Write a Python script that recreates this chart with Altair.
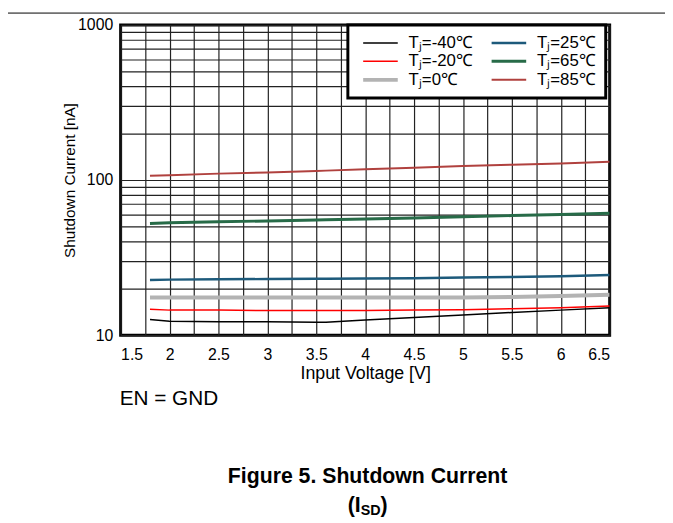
import altair as alt
import pandas as pd

# ---- data ----
volts = [1.8, 2.0, 2.5, 3.0, 3.5, 3.6, 4.0, 4.5, 5.0, 5.5, 6.0, 6.5]
tj_m40 = [12.6, 12.3, 12.2, 12.2, 12.1, 12.1, 12.5, 13.0, 13.5, 14.0, 14.5, 15.0]
tj_m20 = [14.7, 14.5, 14.5, 14.4, 14.4, 14.4, 14.4, 14.5, 14.6, 14.8, 15.0, 15.4]
tj_0 = [17.5, 17.5, 17.5, 17.5, 17.5, 17.5, 17.5, 17.5, 17.5, 17.6, 17.9, 18.2]
tj_25 = [22.7, 22.8, 22.9, 23.0, 23.1, 23.1, 23.2, 23.3, 23.5, 23.7, 24.0, 24.4]
tj_65 = [52.5, 53.0, 53.8, 54.5, 55.3, 55.4, 56.1, 57.0, 58.0, 59.0, 60.0, 61.0]
tj_85 = [106.7, 107.5, 110.0, 112.0, 114.5, 115.0, 117.5, 120.0, 123.0, 125.5, 128.0, 131.0]

series_names = ["Tⱼ=-40℃", "Tⱼ=-20℃", "Tⱼ=0℃", "Tⱼ=25℃", "Tⱼ=65℃", "Tⱼ=85℃"]
series_values = [tj_m40, tj_m20, tj_0, tj_25, tj_65, tj_85]
series_colors = ["#000000", "#ff0000", "#b3b3b3", "#1d5a7b", "#276b48", "#b0413e"]
series_widths = [1.5, 1.5, 4, 2.5, 3, 2]
draw_order = [0, 2, 1, 3, 4, 5]

x_grid = [1.5 + 0.25 * i for i in range(21)]
y_grid = [10, 20, 30, 40, 50, 60, 70, 80, 90, 100, 200, 300, 400, 500, 600, 700, 800, 900, 1000]

rows = []
for name, vals, o in zip(series_names, series_values, draw_order):
    for v, c in zip(volts, vals):
        rows.append({"v": v, "i": c, "series": name, "o": o})
df = pd.DataFrame(rows)

legend = alt.Legend(
    title=None, orient="none", legendX=230, legendY=0, columns=2,
    symbolType="M-3.5,0L3.5,0", symbolSize=100, labelFontSize=17, labelFont="Liberation Sans",
    fillColor="white", strokeColor="black", padding=9.5, rowPadding=0.8,
    columnPadding=13, labelOffset=20, symbolOffset=15,
)

lines = alt.Chart(df).mark_line(clip=True).encode(
    x=alt.X("v:Q", scale=alt.Scale(domain=[1.5, 6.5], nice=False, zero=False),
            axis=alt.Axis(values=x_grid, format="~g",
                          labelExpr="(datum.value * 2) % 1 == 0 ? datum.label : ''",
                          title="Input Voltage [V]", ticks=False, domain=False,
                          labelPadding=12, titlePadding=2, titleFontSize=18)),
    y=alt.Y("i:Q", scale=alt.Scale(type="log", domain=[10, 1000], nice=False),
            axis=alt.Axis(values=y_grid, format="d",
                          labelExpr="datum.value == 10 || datum.value == 100 || datum.value == 1000 ? datum.label : ''",
                          title="Shutdown Current [nA]", ticks=False, domain=False,
                          labelPadding=8, titleX=-52, titleY=157, titleAngle=-90,
                          titleAlign="center", titleBaseline="middle", titleFontSize=15.5)),
    color=alt.Color("series:N", scale=alt.Scale(domain=series_names, range=series_colors), legend=legend),
    strokeWidth=alt.StrokeWidth("series:N", scale=alt.Scale(type="ordinal", domain=series_names, range=series_widths), legend=legend),
    order=alt.Order("o:Q"),
    detail="series:N",
)

one = pd.DataFrame({"k": [0]})
top_line = alt.Chart(one).mark_rule(color="black", strokeWidth=1).encode(
    x=alt.value(-122), x2=alt.value(560), y=alt.value(-12))

en_text = alt.Chart(one).mark_text(text="EN = GND", align="left", baseline="alphabetic",
                                   fontSize=21, font="Liberation Sans").encode(
    x=alt.value(-1), y=alt.value(385))

cap1 = alt.Chart(one).mark_text(text="Figure 5. Shutdown Current", align="center", baseline="alphabetic",
                                fontSize=21.5, fontWeight="bold", font="Liberation Sans").encode(
    x=alt.value(250), y=alt.value(464))
cap2a = alt.Chart(one).mark_text(text="(I", align="right", baseline="alphabetic",
                                 fontSize=21.5, fontWeight="bold", font="Liberation Sans").encode(
    x=alt.value(243), y=alt.value(493))
cap2b = alt.Chart(one).mark_text(text="SD", align="left", baseline="alphabetic",
                                 fontSize=14.5, fontWeight="bold", font="Liberation Sans").encode(
    x=alt.value(243), y=alt.value(496))
cap2c = alt.Chart(one).mark_text(text=")", align="left", baseline="alphabetic",
                                 fontSize=21.5, fontWeight="bold", font="Liberation Sans").encode(
    x=alt.value(263), y=alt.value(493))

chart = alt.layer(lines, top_line, en_text, cap1, cap2a, cap2b, cap2c).properties(
    width=495, height=314,
    autosize=alt.AutoSizeParams(type="none"),
    padding={"left": 114, "top": 14, "right": 56, "bottom": 186},
).configure(font="Liberation Sans").configure_view(
    stroke="black", strokeWidth=3
).configure_axis(
    gridColor="#222222", gridWidth=1.2, gridOpacity=1,
    labelFontSize=16, titleFontSize=15, labelColor="black", titleColor="black",
    titleFontWeight="normal", labelFont="Liberation Sans", titleFont="Liberation Sans",
).configure_legend(strokeWidth=3)

chart.save("out.html", embed_options={"renderer": "svg", "actions": False})
